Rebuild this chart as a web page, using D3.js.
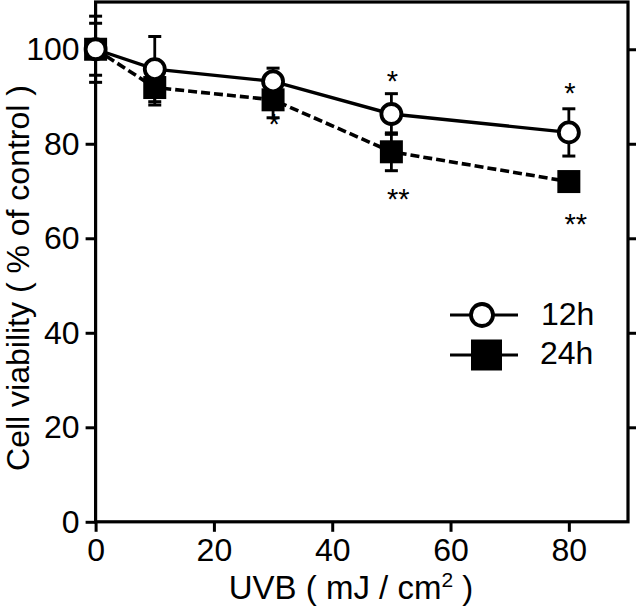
<!DOCTYPE html>
<html>
<head>
<meta charset="utf-8">
<script src="https://cdn.jsdelivr.net/npm/d3@7"></script>
<style>
  html, body { margin: 0; padding: 0; background: #fff; }
  svg { display: block; font-family: "Liberation Sans", Arial, sans-serif; }
</style>
</head>
<body>
<svg id="chart" width="636" height="611"></svg>
<script>
// ---- data ----
const doses = [0, 10, 30, 50, 80];
const viability12h = [100, 95.8, 93.2, 86.3, 82.4];
const error12h = [7.0, 6.9, 2.8, 4.3, 5.0];
const viability24h = [100, 91.9, 89.3, 78.3, 72.0];
const error24h = [5.5, 3.7, 3.8, 4.0, 1.2];
const xTicks = [0, 20, 40, 60, 80];
const yTicks = [0, 20, 40, 60, 80, 100];
const seriesNames = ["12h", "24h"];
// significance marks: [dose, value-position, label]
const sigMarks = [
  [30, 85.5, "*"],
  [50, 94.5, "*"],
  [50, 69.5, "**"],
  [80, 92.0, "*"],
  [80, 64.3, "**"]
];

const svg = d3.select("#chart");
const L = 95.6, R = 628, T = 2, B = 521.8;
const x = d3.scaleLinear().domain([0, 90]).range([L, R]);
const y = d3.scaleLinear().domain([0, 110]).range([B, T]);

// axes ticks
const tickFont = 32;
const gx = svg.append("g").attr("transform", `translate(0,${B})`)
  .call(d3.axisBottom(x).tickValues(xTicks).tickSize(10).tickPadding(6).tickSizeOuter(0));
const gy = svg.append("g").attr("transform", `translate(${L},0)`)
  .call(d3.axisLeft(y).tickValues(yTicks).tickSize(10).tickPadding(6).tickSizeOuter(0));
const gr = svg.append("g").attr("transform", `translate(${R},0)`)
  .call(d3.axisRight(y).tickValues(yTicks.slice(1)).tickSize(8).tickFormat("").tickSizeOuter(0));
[gx, gy, gr].forEach(g => {
  g.select(".domain").remove();
  g.selectAll(".tick line").attr("stroke", "#000").attr("stroke-width", 3);
  g.selectAll(".tick text").attr("fill", "#000").style("font-size", tickFont + "px")
    .style("font-family", '"Liberation Sans", Arial, sans-serif');
});

// frame
svg.append("rect").attr("x", L).attr("y", T).attr("width", R - L).attr("height", B - T)
  .attr("fill", "none").attr("stroke", "#000").attr("stroke-width", 3.2);

// series
const d12 = doses.map((d, i) => ({ x: d, v: viability12h[i], e: error12h[i] }));
const d24 = doses.map((d, i) => ({ x: d, v: viability24h[i], e: error24h[i] }));
const line = d3.line().x(d => x(d.x)).y(d => y(d.v));

function errorBars(data) {
  const g = svg.append("g").attr("stroke", "#000").attr("stroke-width", 2.8);
  data.forEach(d => {
    g.append("line").attr("x1", x(d.x)).attr("x2", x(d.x))
      .attr("y1", y(d.v + d.e)).attr("y2", y(d.v - d.e));
    [d.v + d.e, d.v - d.e].forEach(val => {
      g.append("line").attr("x1", x(d.x) - 6.5).attr("x2", x(d.x) + 6.5)
        .attr("y1", y(val)).attr("y2", y(val)).attr("stroke-width", 3);
    });
  });
}

// 24h (drawn first, behind)
errorBars(d24);
svg.append("path").datum(d24).attr("d", line).attr("fill", "none")
  .attr("stroke", "#000").attr("stroke-width", 3.6).attr("stroke-dasharray", "9,4");
svg.append("g").selectAll("rect").data(d24).join("rect")
  .attr("x", d => x(d.x) - 11.5).attr("y", d => y(d.v) - 11.5)
  .attr("width", 23).attr("height", 23).attr("fill", "#000");

// 12h
errorBars(d12);
svg.append("path").datum(d12).attr("d", line).attr("fill", "none")
  .attr("stroke", "#000").attr("stroke-width", 3.4);
svg.append("g").selectAll("circle").data(d12).join("circle")
  .attr("cx", d => x(d.x)).attr("cy", d => y(d.v)).attr("r", 10)
  .attr("fill", "#fff").attr("stroke", "#000").attr("stroke-width", 3.8);

// significance marks
svg.append("g").selectAll("text").data(sigMarks).join("text")
  .attr("x", d => x(d[0]) + (d[2] === "**" ? 7 : 1))
  .attr("y", d => y(d[1]) + 16)
  .attr("text-anchor", "middle")
  .style("font-size", "29px").attr("fill", "#000")
  .text(d => d[2]);

// legend
const lg = svg.append("g");
lg.append("line").attr("x1", 450).attr("x2", 518).attr("y1", 315).attr("y2", 315)
  .attr("stroke", "#000").attr("stroke-width", 3.2);
lg.append("circle").attr("cx", 482).attr("cy", 315).attr("r", 11)
  .attr("fill", "#fff").attr("stroke", "#000").attr("stroke-width", 3.8);
lg.append("line").attr("x1", 450).attr("x2", 518).attr("y1", 355).attr("y2", 355)
  .attr("stroke", "#000").attr("stroke-width", 3.2);
lg.append("rect").attr("x", 471).attr("y", 339.5).attr("width", 31).attr("height", 31)
  .attr("fill", "#000");
lg.append("text").attr("x", 541).attr("y", 325).style("font-size", "32px").text(seriesNames[0]);
lg.append("text").attr("x", 540).attr("y", 364).style("font-size", "32px").text(seriesNames[1]);

// axis titles
const xt = svg.append("text").attr("x", 351).attr("y", 599).attr("text-anchor", "middle")
  .style("font-size", "33px").attr("fill", "#000");
xt.append("tspan").text("UVB ( mJ / cm");
xt.append("tspan").attr("dy", -12).style("font-size", "21px").text("2");
xt.append("tspan").attr("dy", 12).text(" )");

svg.append("text").attr("transform", "translate(29,278) rotate(-90)")
  .attr("text-anchor", "middle").style("font-size", "32px").attr("fill", "#000")
  .text("Cell viability ( % of control )");
</script>
</body>
</html>
